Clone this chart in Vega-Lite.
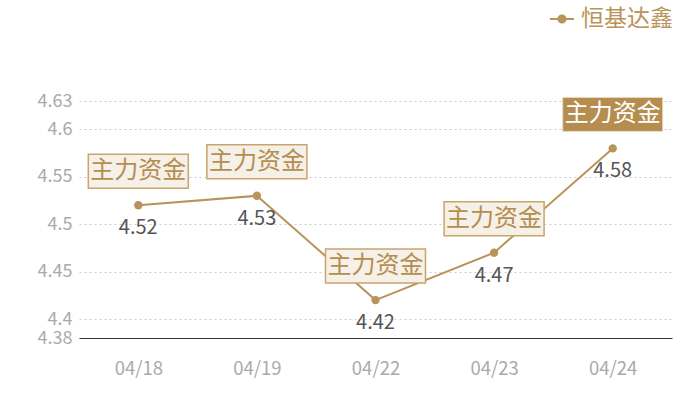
{
  "$schema": "https://vega.github.io/schema/vega-lite/v6.json",
  "autosize": {"type": "none"},
  "padding": {"left": 79, "top": 101, "right": 28, "bottom": 62},
  "width": 593,
  "height": 237,
  "background": "white",
  "config": {
    "font": "Noto Sans CJK SC",
    "view": {"stroke": null}
  },
  "data": {
    "values": [
      {"date": "04/18", "value": 4.52, "name": "恒基达鑫", "tag": "主力资金"},
      {"date": "04/19", "value": 4.53, "name": "恒基达鑫", "tag": "主力资金"},
      {"date": "04/22", "value": 4.42, "name": "恒基达鑫", "tag": "主力资金"},
      {"date": "04/23", "value": 4.47, "name": "恒基达鑫", "tag": "主力资金"},
      {"date": "04/24", "value": 4.58, "name": "恒基达鑫", "tag": "主力资金"}
    ]
  },
  "encoding": {
    "x": {
      "field": "date",
      "type": "ordinal",
      "scale": {"type": "point", "padding": 0.5},
      "axis": {
        "title": null,
        "labelAngle": 0,
        "labelColor": "#aaaaaa",
        "labelFontSize": 18.5,
        "labelPadding": 21,
        "ticks": false,
        "domainColor": "#333333",
        "domainWidth": 1.2,
        "grid": false
      }
    },
    "y": {
      "field": "value",
      "type": "quantitative",
      "scale": {"domain": [4.38, 4.63], "zero": false, "nice": false},
      "axis": {
        "title": null,
        "values": [4.38, 4.4, 4.45, 4.5, 4.55, 4.6, 4.63],
        "format": "~g",
        "labelColor": "#aaaaaa",
        "labelFontSize": 18,
        "labelPadding": 7,
        "ticks": false,
        "domain": false,
        "gridColor": "#cccccc",
        "gridDash": [2, 3]
      }
    }
  },
  "layer": [
    {
      "mark": {"type": "line", "strokeWidth": 2},
      "encoding": {
        "color": {
          "field": "name",
          "type": "nominal",
          "scale": {"range": ["#b8935a"]},
          "legend": {
            "title": null,
            "orient": "none",
            "legendX": 470,
            "legendY": -95,
            "labelFontSize": 23,
            "labelColor": "#b8935a",
            "labelOffset": 6,
            "symbolType": "M-1,0H-0.3M0.3,0H1M0.3,0A0.3,0.3 0 1 1 -0.3,0A0.3,0.3 0 1 1 0.3,0Z",
            "symbolSize": 576,
            "symbolFillColor": "#b8935a",
            "symbolStrokeColor": "#b8935a",
            "symbolStrokeWidth": 2
          }
        }
      }
    },
    {
      "mark": {"type": "point", "filled": true, "size": 70, "opacity": 1, "color": "#b8935a"}
    },
    {
      "mark": {"type": "text", "fontSize": 20, "color": "#555555", "baseline": "middle"},
      "encoding": {
        "text": {"field": "value", "type": "quantitative", "format": ".2f"},
        "yOffset": {"condition": {"test": "datum.date == '04/19'", "value": 48}, "value": 23}
      }
    },
    {
      "transform": [{"filter": "datum.date != '04/24'"}],
      "mark": {
        "type": "point",
        "shape": "M-1,-0.34H1V0.34H-1Z",
        "size": 10000,
        "filled": true,
        "fill": "#f5f0e8",
        "stroke": "#c9a56c",
        "strokeWidth": 1.5,
        "opacity": 1,
        "yOffset": -34
      }
    },
    {
      "transform": [{"filter": "datum.date == '04/24'"}],
      "mark": {
        "type": "point",
        "shape": "M-1,-0.34H1V0.34H-1Z",
        "size": 10000,
        "filled": true,
        "fill": "#b58d4f",
        "stroke": "#e8dcc8",
        "strokeWidth": 1,
        "opacity": 1,
        "yOffset": -34
      }
    },
    {
      "mark": {"type": "text", "fontSize": 24, "baseline": "middle", "yOffset": -34},
      "encoding": {
        "text": {"field": "tag"},
        "color": {
          "condition": {"test": "datum.date == '04/24'", "value": "#ffffff"},
          "value": "#b58d4f"
        }
      }
    }
  ]
}
